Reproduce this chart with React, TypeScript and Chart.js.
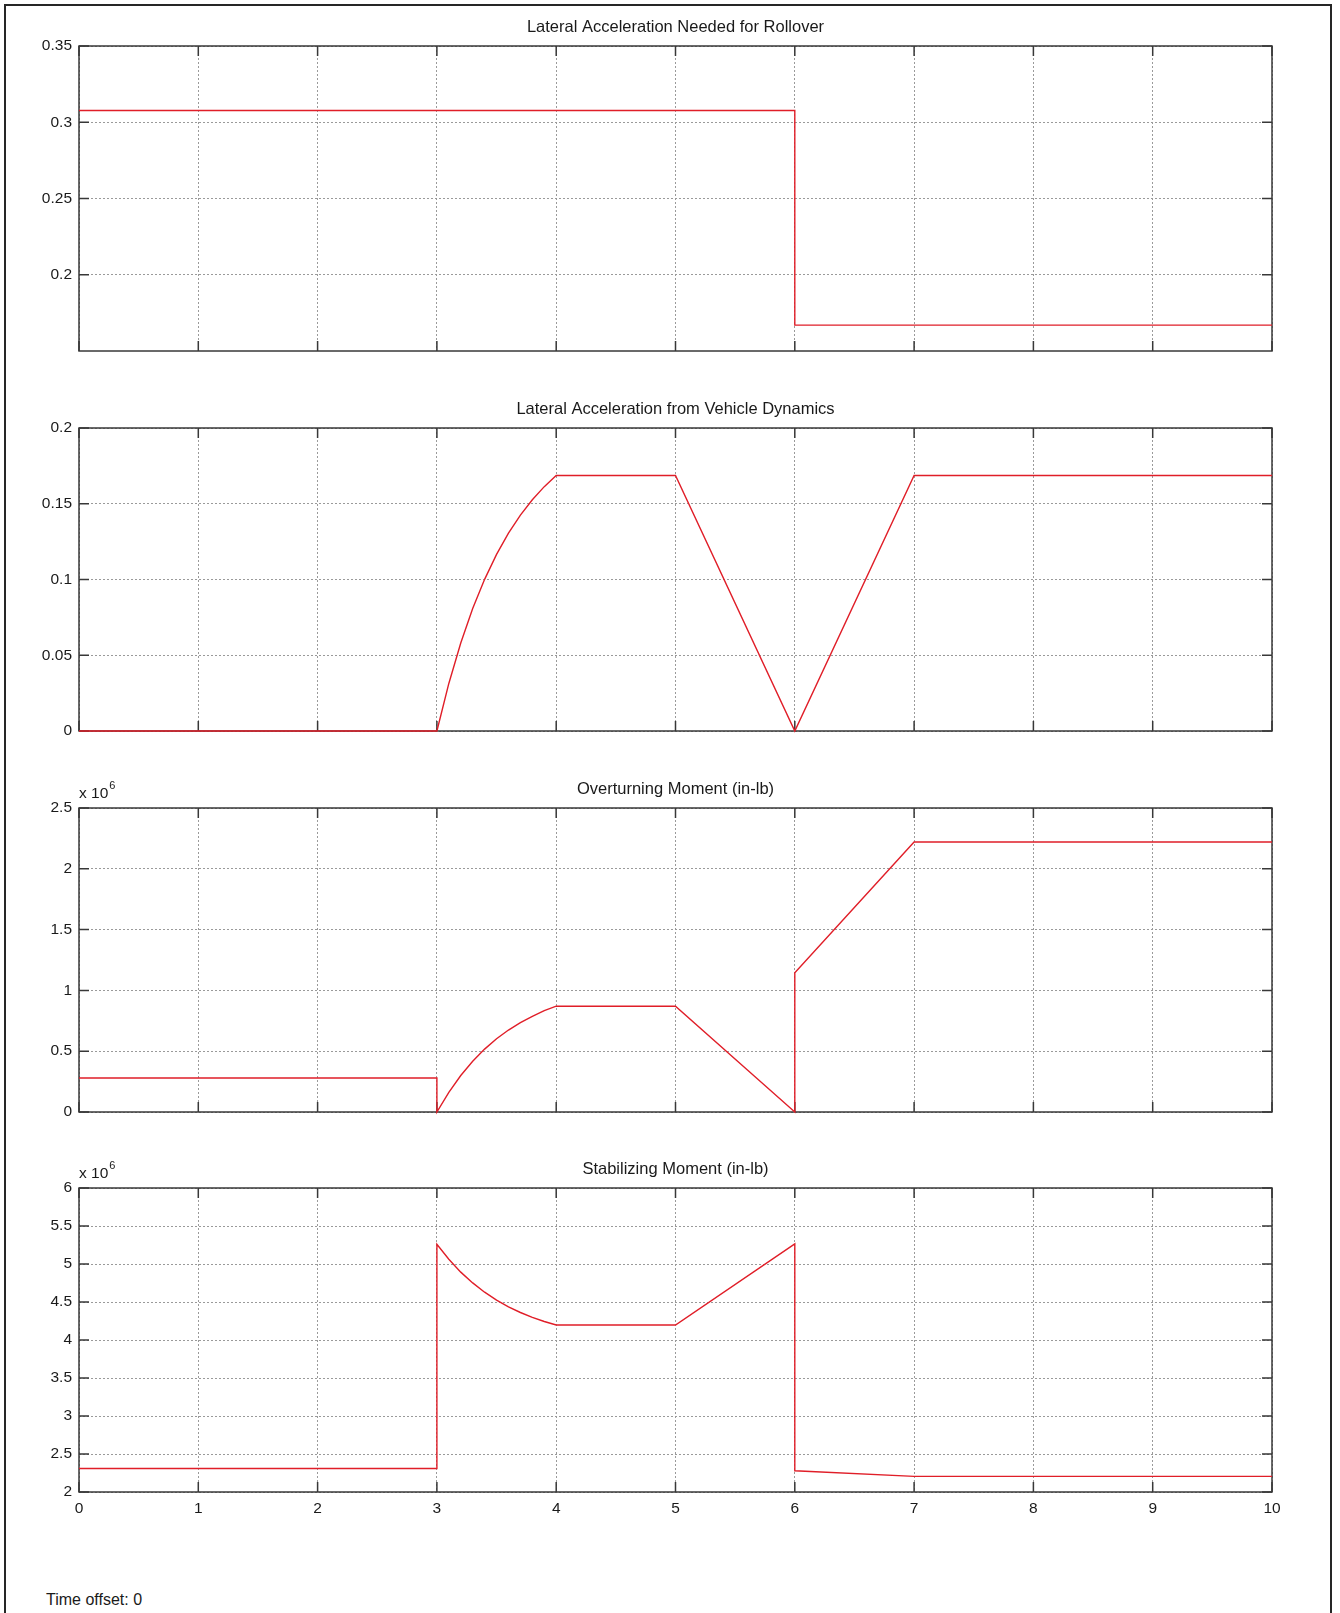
import React, { useEffect, useRef } from "react";
import { Chart, registerables } from "chart.js";

Chart.register(...registerables);

// ---------- data ----------
const xTickValues = [0, 1, 2, 3, 4, 5, 6, 7, 8, 9, 10];
const xTickLabels = ["0", "1", "2", "3", "4", "5", "6", "7", "8", "9", "10"];

const rolloverTime = [0, 6, 6, 10];
const rolloverAccel = [0.3077, 0.3077, 0.167, 0.167];
const rolloverTicks = [0.2, 0.25, 0.3, 0.35];
const rolloverTickLabels = ["0.2", "0.25", "0.3", "0.35"];

const dynamicsTime = [0, 3, 3.1, 3.2, 3.3, 3.4, 3.5, 3.6, 3.7, 3.8, 3.9, 4, 5, 6, 7, 10];
const dynamicsAccel = [0, 0, 0.0314, 0.0581, 0.0808, 0.1001, 0.1166, 0.1306, 0.1425, 0.1526, 0.1613, 0.1686, 0.1686, 0, 0.1686, 0.1686];
const dynamicsTicks = [0, 0.05, 0.1, 0.15, 0.2];
const dynamicsTickLabels = ["0", "0.05", "0.1", "0.15", "0.2"];

const overturnTime = [0, 3, 3, 3.1, 3.2, 3.3, 3.4, 3.5, 3.6, 3.7, 3.8, 3.9, 4, 5, 6, 6, 7, 10];
const overturnMoment = [280000, 280000, 0, 162000, 300000, 417000, 517000, 602000, 674000, 735000, 787000, 833000, 870000, 870000, 0, 1145000, 2220000, 2220000];
const overturnTicks = [0, 500000, 1000000, 1500000, 2000000, 2500000];
const overturnTickLabels = ["0", "0.5", "1", "1.5", "2", "2.5"];

const stabilTime = [0, 3, 3, 3.1, 3.2, 3.3, 3.4, 3.5, 3.6, 3.7, 3.8, 3.9, 4, 5, 6, 6, 7, 10];
const stabilMoment = [2310000, 2310000, 5260000, 5062000, 4893000, 4751000, 4629000, 4524000, 4436000, 4362000, 4298000, 4243000, 4197000, 4197000, 5265000, 2280000, 2205000, 2205000];
const stabilTicks = [2000000, 2500000, 3000000, 3500000, 4000000, 4500000, 5000000, 5500000, 6000000];
const stabilTickLabels = ["2", "2.5", "3", "3.5", "4", "4.5", "5", "5.5", "6"];

const FONT = '"Liberation Sans", Arial, Helvetica, sans-serif';

type PanelSpec = {
  title: string;
  time: number[];
  values: number[];
  yMin: number;
  yMax: number;
  yTicks: number[];
  yLabels: string[];
  exponent: boolean;
  showX: boolean;
  top: number;
  plotH: number;
  axisH: number;
};

const PAD_TOP = 46;
const Y_AXIS_W = 79;
const PAD_RIGHT = 68;
const WIDTH = 1340;

function framePlugin(spec: PanelSpec) {
  return {
    id: "matlabFrame",
    beforeDatasetsDraw(chart: any) {
      const { ctx, chartArea: a, scales } = chart;
      ctx.save();
      ctx.strokeStyle = "#383838";
      ctx.lineWidth = 1.5;
      ctx.beginPath();
      const tl = 10;
      scales.x.ticks.forEach((t: any) => {
        const px = scales.x.getPixelForValue(t.value);
        ctx.moveTo(px, a.bottom);
        ctx.lineTo(px, a.bottom - tl);
        ctx.moveTo(px, a.top);
        ctx.lineTo(px, a.top + tl);
      });
      scales.y.ticks.forEach((t: any) => {
        const py = scales.y.getPixelForValue(t.value);
        ctx.moveTo(a.left, py);
        ctx.lineTo(a.left + tl, py);
        ctx.moveTo(a.right, py);
        ctx.lineTo(a.right - tl, py);
      });
      ctx.stroke();
      ctx.strokeRect(a.left, a.top, a.right - a.left, a.bottom - a.top);

      ctx.fillStyle = "#1a1a1a";
      ctx.font = `16.5px ${FONT}`;
      ctx.textAlign = "center";
      ctx.textBaseline = "alphabetic";
      ctx.fillText(spec.title, (a.left + a.right) / 2, a.top - 14);

      if (spec.exponent) {
        ctx.textAlign = "left";
        ctx.font = `15.5px ${FONT}`;
        const base = "x 10";
        ctx.fillText(base, a.left, a.top - 10);
        const w = ctx.measureText(base).width;
        ctx.font = `11px ${FONT}`;
        ctx.fillText("6", a.left + w + 1, a.top - 19);
      }
      ctx.restore();
    },
  };
}

function Panel({ spec }: { spec: PanelSpec }) {
  const ref = useRef<HTMLCanvasElement | null>(null);
  const canvasH = PAD_TOP + spec.plotH + spec.axisH;

  useEffect(() => {
    if (!ref.current) return;
    const points = spec.time.map((t, i) => ({ x: t, y: spec.values[i] }));
    const chart = new Chart(ref.current, {
      type: "line",
      data: {
        datasets: [
          {
            data: points,
            borderColor: "#e01e28",
            borderWidth: 1.4,
            pointRadius: 0,
            tension: 0,
            clip: false as any,
          },
        ],
      },
      options: {
        responsive: false,
        animation: false,
        devicePixelRatio: 1,
        parsing: false as any,
        layout: { padding: { top: PAD_TOP, right: PAD_RIGHT, left: 0, bottom: 0 } },
        plugins: { legend: { display: false }, tooltip: { enabled: false }, title: { display: false } },
        scales: {
          x: {
            type: "linear",
            min: 0,
            max: 10,
            afterBuildTicks: (scale: any) => {
              scale.ticks = xTickValues.map((v) => ({ value: v }));
            },
            afterFit: (scale: any) => {
              scale.height = spec.axisH;
            },
            grid: { color: "#9a9a9a", lineWidth: 1, drawTicks: false },
            border: { display: false, dash: [2, 2] },
            ticks: {
              display: spec.showX,
              autoSkip: false,
              maxRotation: 0,
              padding: 7,
              color: "#1a1a1a",
              font: { family: FONT, size: 15.5 },
              callback: (_v: any, i: number) => xTickLabels[i],
            },
          },
          y: {
            type: "linear",
            min: spec.yMin,
            max: spec.yMax,
            afterBuildTicks: (scale: any) => {
              scale.ticks = spec.yTicks.map((v) => ({ value: v }));
            },
            afterFit: (scale: any) => {
              scale.width = Y_AXIS_W;
            },
            grid: { color: "#9a9a9a", lineWidth: 1, drawTicks: false },
            border: { display: false, dash: [2, 2] },
            ticks: {
              autoSkip: false,
              padding: 7,
              color: "#1a1a1a",
              font: { family: FONT, size: 15.5 },
              callback: (_v: any, i: number) => spec.yLabels[i],
            },
          },
        },
      },
      plugins: [framePlugin(spec)],
    } as any);
    return () => chart.destroy();
  }, [spec]);

  return (
    <canvas
      ref={ref}
      width={WIDTH}
      height={canvasH}
      style={{ position: "absolute", left: 0, top: spec.top - PAD_TOP, width: WIDTH, height: canvasH }}
    />
  );
}

const panels: PanelSpec[] = [
  {
    title: "Lateral Acceleration Needed for Rollover",
    time: rolloverTime,
    values: rolloverAccel,
    yMin: 0.15,
    yMax: 0.35,
    yTicks: rolloverTicks,
    yLabels: rolloverTickLabels,
    exponent: false,
    showX: false,
    top: 46,
    plotH: 305,
    axisH: 30,
  },
  {
    title: "Lateral Acceleration from Vehicle Dynamics",
    time: dynamicsTime,
    values: dynamicsAccel,
    yMin: 0,
    yMax: 0.2,
    yTicks: dynamicsTicks,
    yLabels: dynamicsTickLabels,
    exponent: false,
    showX: false,
    top: 428,
    plotH: 303,
    axisH: 30,
  },
  {
    title: "Overturning Moment (in-lb)",
    time: overturnTime,
    values: overturnMoment,
    yMin: 0,
    yMax: 2500000,
    yTicks: overturnTicks,
    yLabels: overturnTickLabels,
    exponent: true,
    showX: false,
    top: 808,
    plotH: 304,
    axisH: 30,
  },
  {
    title: "Stabilizing Moment (in-lb)",
    time: stabilTime,
    values: stabilMoment,
    yMin: 2000000,
    yMax: 6000000,
    yTicks: stabilTicks,
    yLabels: stabilTickLabels,
    exponent: true,
    showX: true,
    top: 1188,
    plotH: 304,
    axisH: 40,
  },
];

export default function App() {
  return (
    <div
      style={{
        position: "absolute",
        left: 0,
        top: 0,
        width: 1340,
        height: 1613,
        overflow: "hidden",
        background: "#ffffff",
        fontFamily: FONT,
      }}
    >
      <div
        style={{
          position: "absolute",
          left: 4,
          top: 4,
          width: 1328,
          height: 1700,
          boxSizing: "border-box",
          border: "2px solid #262626",
        }}
      />
      {panels.map((p, i) => (
        <Panel key={i} spec={p} />
      ))}
      <div
        style={{
          position: "absolute",
          left: 46,
          top: 1590,
          fontSize: 16,
          lineHeight: "20px",
          color: "#1a1a1a",
          whiteSpace: "nowrap",
        }}
      >
        Time offset: 0
      </div>
    </div>
  );
}
